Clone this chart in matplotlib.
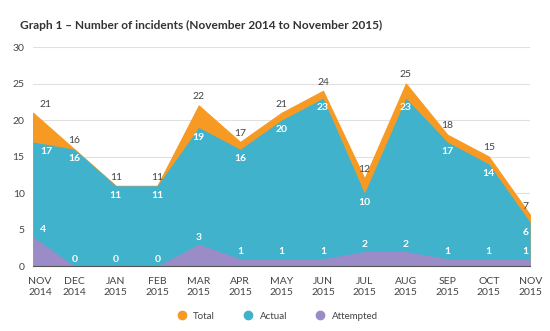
import matplotlib.pyplot as plt
import matplotlib.transforms as mtransforms
from matplotlib.lines import Line2D

plt.rcParams['font.family'] = ['Lato', 'DejaVu Sans']

months = ["NOV\n2014", "DEC\n2014", "JAN\n2015", "FEB\n2015", "MAR\n2015", "APR\n2015", "MAY\n2015",
          "JUN\n2015", "JUL\n2015", "AUG\n2015", "SEP\n2015", "OCT\n2015", "NOV\n2015"]
total = [21, 16, 11, 11, 22, 17, 21, 24, 12, 25, 18, 15, 7]
actual = [17, 16, 11, 11, 19, 16, 20, 23, 10, 23, 17, 14, 6]
attempted = [4, 0, 0, 0, 3, 1, 1, 1, 2, 2, 1, 1, 1]
y_ticks = [0, 5, 10, 15, 20, 25, 30]

c_total = "#F79A24"
c_actual = "#41B2CC"
c_attempt = "#9B8BC7"

fig = plt.figure(figsize=(5.5, 3.31), dpi=100)
ax = fig.add_axes([0.06, 0.196, 0.904, 0.662])
x = list(range(len(months)))

ax.fill_between(x, 0, total, color=c_total, lw=0.8, ec=c_total, zorder=2)
ax.fill_between(x, 0, actual, color=c_actual, lw=0, zorder=3)
ax.fill_between(x, 0, attempted, color=c_attempt, lw=0, zorder=4)

# labels at the two ends are pushed inside the plot, as in the original
for i in x:
    if i == 0:
        dx, ha = 5, "left"
    elif i == len(x) - 1:
        dx, ha = -1, "right"
    else:
        dx, ha = 0, "center"
    ax.annotate(str(total[i]), (i, total[i]), xytext=(dx, 3), textcoords="offset points",
                ha=ha, va="bottom", fontsize=7.5, color="#444444", zorder=6)
    ax.annotate(str(actual[i]), (i, actual[i]), xytext=(dx, -7), textcoords="offset points",
                ha=ha, va="center", fontsize=7.5, color="white", fontweight="bold", zorder=6)
    ax.annotate(str(attempted[i]), (i, attempted[i]), xytext=(dx, 5), textcoords="offset points",
                ha=ha, va="center", fontsize=7.5, color="white", fontweight="bold", zorder=6)

ax.set_xlim(0, len(months) - 1)
ax.set_ylim(0, 30)
ax.set_yticks(y_ticks)
ax.set_xticks(x)
ax.set_xticklabels(months)
ax.tick_params(axis="both", length=0, labelsize=7.5, colors="#444444")
ax.tick_params(axis="x", pad=8)
ax.tick_params(axis="y", pad=6)
xt = ax.get_xticklabels()
shift = mtransforms.ScaledTranslation(5 / 72, 0, fig.dpi_scale_trans)
xt[0].set_transform(xt[0].get_transform() + shift)
ax.grid(axis="y", color="#E0E0E0", lw=0.8, zorder=0)
ax.set_axisbelow(True)
for s in ["top", "right", "left"]:
    ax.spines[s].set_visible(False)
ax.spines["bottom"].set_color("#555555")
ax.spines["bottom"].set_linewidth(0.8)
ax.spines["bottom"].set_zorder(5)

fig.text(0.036, 0.924, "Graph 1 \u2013 Number of incidents (November 2014 to November 2015)",
         fontsize=8.6, fontweight="bold", color="#333333", va="center")

handles = [Line2D([], [], marker="o", ls="", color=c, markersize=6) for c in (c_total, c_actual, c_attempt)]
fig.legend(handles, ["Total", "Actual", "Attempted"], loc="center", bbox_to_anchor=(0.5, 0.045),
           ncol=3, frameon=False, fontsize=7, handletextpad=0.2, columnspacing=2.4, labelcolor="#444444")

fig.savefig("out.png", dpi=100)
